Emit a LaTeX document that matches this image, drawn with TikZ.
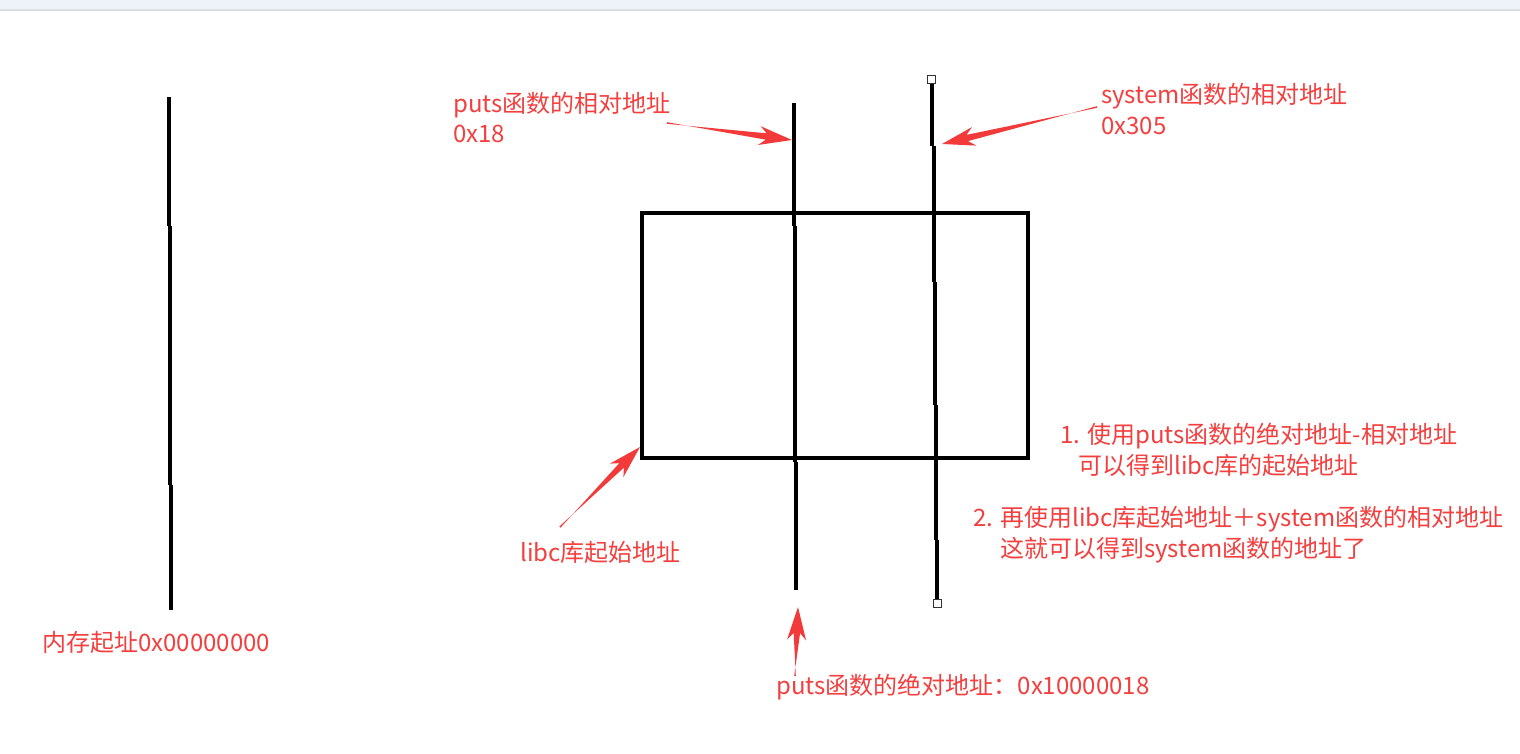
\documentclass[tikz,border=0pt]{standalone}
\usepackage{fontspec}
\setmainfont{Noto Sans CJK SC}
\usetikzlibrary{calc}
\definecolor{txtred}{HTML}{F43F3F}
\definecolor{arrred}{HTML}{F23A3A}
\definecolor{topband}{HTML}{EEF2F9}
\definecolor{topline}{HTML}{DCDEE2}
\newcommand{\tarrow}[2]{%
  \fill[arrred] ($(#1)!0.8pt!90:(#2)$)
    -- ($(#2)!26pt!(#1)!3.2pt!90:(#1)$)
    -- ($(#2)!33pt!(#1)!9.5pt!90:(#1)$)
    -- (#2)
    -- ($(#2)!33pt!(#1)!9.5pt!-90:(#1)$)
    -- ($(#2)!26pt!(#1)!3.2pt!-90:(#1)$)
    -- ($(#1)!0.8pt!-90:(#2)$) -- cycle;}
\tikzset{
  lbl/.style={anchor=base west, inner sep=0pt, text=txtred, font=\fontsize{24}{29}\selectfont},
  bar/.style={line width=4.5pt, black},
  handle/.style={draw=black!80, fill=white, line width=1pt, minimum size=8pt, inner sep=0pt, rectangle},
}
\begin{document}
\begin{tikzpicture}[x=1pt,y=-1pt]
\useasboundingbox (0,0) rectangle (1520,753);
\fill[white] (0,0) rectangle (1520,753);
\fill[topband] (0,0) rectangle (1520,9);
\fill[topline] (0,9) rectangle (1520,10.5);

% left memory line
\draw[bar] (169,97) -- (169,226) (170,226) -- (170,485) (171,485) -- (171,610);

% rectangle (libc)
\draw[line width=4.5pt] (642,213) rectangle (1028,458);

% puts line
\draw[bar] (794,103) -- (794,226) (795,226) -- (795,462) (796,462) -- (796,590);

% system line
\draw[bar] (932,82) -- (932,146) (934,146) -- (934,282) (935,282) -- (935,405) (936,405) -- (936,540) (937,540) -- (937,600);
\node[handle] (h1) at (931,79) {};
\node[handle] (h2) at (937,603) {};

% labels
\node[lbl] (putsrel) at (453,112) {puts函数的相对地址};
\node[lbl] (putsrelv) at (453,142) {0x18};
\node[lbl] (sysrel) at (1101,103) {system函数的相对地址};
\node[lbl] (sysrelv) at (1101,134) {0x305};
\node[lbl] (libc) at (520,561) {libc库起始地址};
\node[lbl] (mem) at (42,651) {内存起址0x00000000};
\node[lbl] (putsabs) at (776,694) {puts函数的绝对地址：0x10000018};
\node[lbl] (s1a) at (1060,443) {1. 使用puts函数的绝对地址-相对地址};
\node[lbl] (s1b) at (1078,474) {可以得到libc库的起始地址};
\node[lbl] (s2a) at (973,526) {2. 再使用libc库起始地址＋system函数的相对地址};
\node[lbl] (s2b) at (1000,557) {这就可以得到system函数的地址了};

% arrows
\coordinate (a1t) at (667,123); \coordinate (a1h) at (792,140);
\coordinate (a2t) at (1097,107); \coordinate (a2h) at (942,144);
\coordinate (a3t) at (560,527); \coordinate (a3h) at (640,447);
\coordinate (a4t) at (795,676); \coordinate (a4h) at (798,607);
\tarrow{a1t}{a1h}
\tarrow{a2t}{a2h}
\tarrow{a3t}{a3h}
\tarrow{a4t}{a4h}
\end{tikzpicture}
\end{document}
